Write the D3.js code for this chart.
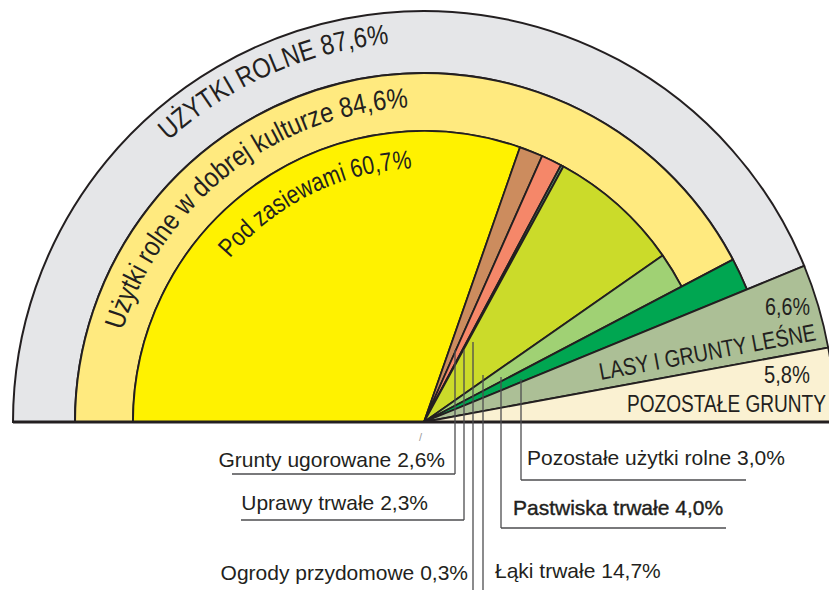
<!DOCTYPE html>
<html>
<head>
<meta charset="utf-8">
<script src="https://cdn.jsdelivr.net/npm/d3@7"></script>
<style>
    body { margin: 0; background: #fff; }
    svg text { font-family: "Liberation Sans", Arial, sans-serif; fill: #231f20; }
</style>
</head>
<body>
<div id="chartDivId"></div>
<script>
// Land use, % of total area
const landNames = ["Pod zasiewami", "Grunty ugorowane", "Uprawy trwałe", "Ogrody przydomowe",
    "Łąki trwałe", "Pastwiska trwałe", "Pozostałe użytki rolne", "Lasy i grunty leśne", "Pozostałe grunty"];
const landShares = [60.7, 2.6, 2.3, 0.3, 14.7, 4.0, 3.0, 6.6, 5.8];

// the two grouping rings
const ringNames = ["Użytki rolne", "Użytki rolne w dobrej kulturze"];
const ringShares = [87.6, 84.6];

const width = 829, height = 590;
const cx = 424, cy = 422;
const rInner = 291, rMid = 349, rOuter = 411;

const color = d3.scaleOrdinal()
    .domain(landNames)
    .range(["#fff200", "#cc8c5e", "#f58769", "#5aa97f", "#cbdb2a", "#a0d174", "#00a651", "#acbf96", "#faf1d2"]);
const ringColor = ["#e5e6e8", "#ffea7f"];

const pl = d3.formatLocale({ decimal: ",", thousands: " ", grouping: [3], currency: ["", " zł"] });
const pct = d => pl.format(".1f")(d) + "%";

// percent -> angle, whole semicircle = 100%
const angle = d3.scaleLinear().domain([0, 100]).range([-Math.PI / 2, Math.PI / 2]);

const svg = d3.select("#chartDivId")
    .append("svg")
    .attr("width", width)
    .attr("height", height);

const g = svg.append("g").attr("transform", "translate(" + cx + "," + cy + ")");

const arc = d3.arc();
const stroke = "#231f20";

// rings
const rings = [
    { share: ringShares[0], r0: rMid, r1: rOuter, fill: ringColor[0] },
    { share: ringShares[1], r0: rInner, r1: rMid, fill: ringColor[1] }
];
g.selectAll("path.ring")
    .data(rings)
    .enter().append("path")
    .attr("class", "ring")
    .attr("d", d => arc({ innerRadius: d.r0, outerRadius: d.r1, startAngle: angle(0), endAngle: angle(d.share) }))
    .style("fill", d => d.fill)
    .style("stroke", stroke)
    .style("stroke-width", 2);

// slices, each reaches out to the ring that contains it
const pie = d3.pie().sort(null).startAngle(-Math.PI / 2).endAngle(Math.PI / 2);
const cum = Array.from(d3.cumsum(landShares));
const slices = pie(landShares).map((d, i) => {
    let r = rOuter;
    if (cum[i] <= ringShares[1] + 1e-6) r = rInner;
    else if (cum[i] <= ringShares[0] + 1e-6) r = rMid;
    return Object.assign(d, { name: landNames[i], innerRadius: 0, outerRadius: r });
});

g.selectAll("path.slice")
    .data(slices)
    .enter().append("path")
    .attr("class", "slice")
    .attr("d", arc)
    .style("fill", d => color(d.name))
    .style("stroke", stroke)
    .style("stroke-width", 1.8)
    .style("stroke-linejoin", "round");

// base line
svg.append("line")
    .attr("x1", cx - rOuter).attr("x2", width)
    .attr("y1", cy).attr("y2", cy)
    .style("stroke", stroke)
    .style("stroke-width", 3);

// condensed look: squeeze the text to the width it has in print
function squeeze(sel, len) {
    return sel.attr("textLength", len).attr("lengthAdjust", "spacingAndGlyphs");
}

// curved labels on the rings
const defs = svg.append("defs");
function curvedLabel(id, r, midDeg, size, len, text) {
    defs.append("path")
        .attr("id", id)
        .attr("d", "M" + (cx - r) + "," + cy + " A" + r + "," + r + " 0 0,1 " + (cx + r) + "," + cy);
    const tp = svg.append("text")
        .style("font-size", size + "px")
        .append("textPath")
        .attr("href", "#" + id)
        .attr("startOffset", r * (midDeg + 90) * Math.PI / 180)
        .attr("text-anchor", "middle")
        .text(text);
    squeeze(tp, len);
}
curvedLabel("arcOuter", 380, -23.8, 28, 245, ringNames[0].toUpperCase() + " " + pct(ringShares[0]));
curvedLabel("arcMid", 315, -38, 28, 386, ringNames[1] + " " + pct(ringShares[1]));
curvedLabel("arcInner", 254, -26.3, 26, 209, landNames[0] + " " + pct(landShares[0]));

// outer wedges
squeeze(svg.append("text")
    .attr("transform", "translate(817,340) rotate(-10.5)")
    .attr("text-anchor", "end")
    .style("font-size", "24px")
    .text(landNames[7].toUpperCase()), 220);
squeeze(svg.append("text")
    .attr("x", 810).attr("y", 315)
    .attr("text-anchor", "end")
    .style("font-size", "23px")
    .text(pct(landShares[7])), 45);
squeeze(svg.append("text")
    .attr("x", 810).attr("y", 383)
    .attr("text-anchor", "end")
    .style("font-size", "23px")
    .text(pct(landShares[8])), 46);
squeeze(svg.append("text")
    .attr("x", 826).attr("y", 412)
    .attr("text-anchor", "end")
    .style("font-size", "23.5px")
    .text(landNames[8].toUpperCase()), 199);

// leader labels below the base line
const leaders = [
    { i: 1, lx: 455, top: 350, bottom: 474, tx: 445, ty: 467, anchor: "end", ux0: 232 },
    { i: 2, lx: 464, top: 350, bottom: 520, tx: 428, ty: 510, anchor: "end", ux0: 241 },
    { i: 3, lx: 473, top: 342, bottom: 590, tx: 468, ty: 580, anchor: "end" },
    { i: 4, lx: 483, top: 375, bottom: 590, tx: 495, ty: 578, anchor: "start" },
    { i: 5, lx: 501, top: 377, bottom: 528, tx: 513, ty: 515, anchor: "start", ux1: 726, bold: true },
    { i: 6, lx: 521, top: 379, bottom: 480, tx: 527, ty: 465, anchor: "start", ux1: 746 }
];

const lg = svg.append("g").attr("class", "leaders");
leaders.forEach(d => {
    lg.append("line")
        .attr("x1", d.lx).attr("x2", d.lx)
        .attr("y1", d.top).attr("y2", d.bottom)
        .style("stroke", "#4d4d4f")
        .style("stroke-width", 1.3);
    if (d.ux0 !== undefined || d.ux1 !== undefined) {
        lg.append("line")
            .attr("x1", d.ux0 !== undefined ? d.ux0 : d.lx)
            .attr("x2", d.ux1 !== undefined ? d.ux1 : d.lx)
            .attr("y1", d.bottom).attr("y2", d.bottom)
            .style("stroke", "#4d4d4f")
            .style("stroke-width", 1.3);
    }
    lg.append("text")
        .attr("x", d.tx).attr("y", d.ty)
        .attr("text-anchor", d.anchor)
        .style("font-size", "21px")
        .style("stroke", d.bold ? "#231f20" : "none")
        .style("stroke-width", d.bold ? 0.4 : 0)
        .text(landNames[d.i] + " " + pct(landShares[d.i]));
});

// small stray mark under the apex, as in the print
svg.append("text")
    .attr("x", 419).attr("y", 441)
    .style("font-size", "11px")
    .style("fill", "#9a9a9a")
    .text("/");
</script>
</body>
</html>
